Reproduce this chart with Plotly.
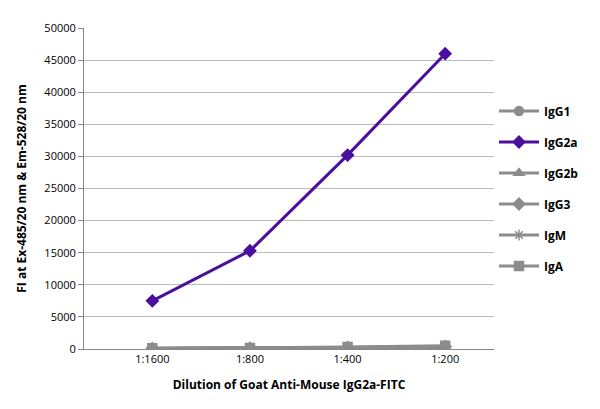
import plotly.graph_objects as go

dilutions = ["1:1600", "1:800", "1:400", "1:200"]
series = {
    "IgG1": [80, 100, 150, 250],
    "IgG2a": [7500, 15300, 30200, 46000],
    "IgG2b": [90, 120, 200, 350],
    "IgG3": [100, 130, 250, 400],
    "IgM": [70, 110, 220, 380],
    "IgA": [120, 160, 300, 500],
}
symbols = {"IgG1": "circle", "IgG2a": "diamond", "IgG2b": "triangle-up",
           "IgG3": "diamond", "IgM": "asterisk-open", "IgA": "square"}

fig = go.Figure()
for name, vals in series.items():
    col = "#4b0f9e" if name == "IgG2a" else "#8c8c8c"
    fig.add_trace(go.Scatter(
        x=dilutions, y=vals, name=name, mode="lines+markers", legendgroup=name,
        line=dict(color=col, width=3),
        marker=dict(symbol=symbols[name], size=9, color=col, line=dict(color=col, width=1.5)),
    ))

fig.update_layout(
    width=600, height=409,
    paper_bgcolor="white", plot_bgcolor="white",
    font=dict(family="Open Sans", size=11, color="black"),
    margin=dict(l=76, r=114, t=16, b=68),
    xaxis=dict(title=dict(text="<b>Dilution of Goat Anti-Mouse IgG2a-FITC</b>", font=dict(size=12)),
               range=[-0.7, 3.5],
               showline=True, linecolor="#888", ticks="", showgrid=False),
    yaxis=dict(title=dict(text="<b>FI at Ex-485/20 nm & Em-528/20 nm</b>", font=dict(size=12)),
               range=[0, 50000], dtick=5000, tickformat="d", showgrid=True, gridcolor="#bbb",
               showline=True, linecolor="#888", ticks="outside", tickcolor="#888"),
    legend=dict(x=1.0, y=0.5, yanchor="middle", font=dict(size=12, weight="bold"),
                tracegroupgap=12, itemwidth=40),
)

fig.write_html("out.html")
